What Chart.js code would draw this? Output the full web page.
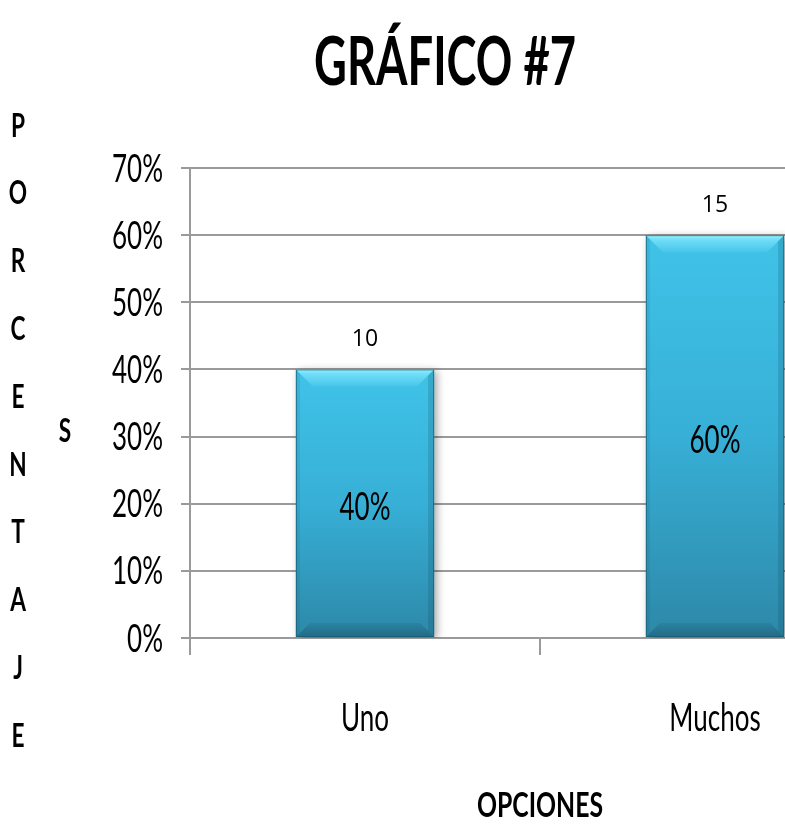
<!DOCTYPE html>
<html>
<head>
<meta charset="utf-8">
<title>GRÁFICO #7</title>
<script src="https://cdn.jsdelivr.net/npm/chart.js@4/dist/chart.umd.min.js"></script>
<style>
  html, body { margin: 0; padding: 0; background: #fff; overflow: hidden; width: 785px; height: 826px; }
  #wrap { position: relative; width: 890px; height: 826px; }
</style>
</head>
<body>
<div id="wrap"><canvas id="chart" width="890" height="826"></canvas></div>
<script>
// ---- data ----
const categories = ['Uno', 'Muchos'];
const percentages = [40, 60];
const counts = [10, 15];
const yTickValues = [0, 10, 20, 30, 40, 50, 60, 70];
const chartTitle = 'GRÁFICO #7';
const yTitle = 'PORCENTAJES';
const xTitle = 'OPCIONES';

// ---- styling ----
const GRID = '#9a9a9a';
const FONT = 'Lato, "Open Sans", "Liberation Sans", sans-serif';

function fontSpec(px, weight) { return `${weight} ${px}px ${FONT}`; }

// Horizontal squeeze that makes `sample` exactly `width` pixels wide.
function squeezeFor(ctx, sample, px, weight, width) {
  ctx.save();
  ctx.font = fontSpec(px, weight);
  const w = ctx.measureText(sample).width;
  ctx.restore();
  return width / w;
}

// Draws text horizontally compressed (tall, narrow lettering).
function squeezed(ctx, text, x, y, px, weight, sx, align) {
  ctx.save();
  ctx.font = fontSpec(px, weight);
  ctx.textAlign = align || 'center';
  ctx.textBaseline = 'alphabetic';
  ctx.fillStyle = '#000';
  ctx.translate(x, y);
  ctx.scale(sx, 1);
  ctx.fillText(text, 0, 0);
  ctx.restore();
}

// Vertical gradient running along each bar.
function barFill(context) {
  const chart = context.chart;
  if (!chart.chartArea) return '#37b0d6';
  const ys = chart.scales.y;
  const top = ys.getPixelForValue(context.raw);
  const base = ys.getPixelForValue(0);
  const g = chart.ctx.createLinearGradient(0, top, 0, base);
  g.addColorStop(0, '#40c3e8');
  g.addColorStop(0.5, '#37afd6');
  g.addColorStop(1, '#2d88a8');
  return g;
}

// Soft drop shadow under the bars plus a bevelled edge on top of them.
const bevelPlugin = {
  id: 'bevel',
  beforeDatasetDraw(chart) {
    const ctx = chart.ctx;
    ctx.save();
    ctx.shadowColor = 'rgba(0,0,0,0.35)';
    ctx.shadowBlur = 8;
    ctx.shadowOffsetX = 3;
    ctx.shadowOffsetY = 2;
  },
  afterDatasetDraw(chart, args) {
    const ctx = chart.ctx;
    ctx.restore();
    args.meta.data.forEach(el => {
      const l = el.x - el.width / 2, r = el.x + el.width / 2;
      const t = el.y, b = el.base;
      const dt = 17, db = 14;
      ctx.save();
      // top bevel
      let g = ctx.createLinearGradient(0, t, 0, t + dt);
      g.addColorStop(0, '#95f2ff');
      g.addColorStop(0.25, '#72def8');
      g.addColorStop(1, '#46c6ea');
      ctx.fillStyle = g;
      ctx.beginPath();
      ctx.moveTo(l, t); ctx.lineTo(r, t); ctx.lineTo(r - dt, t + dt); ctx.lineTo(l + dt, t + dt);
      ctx.closePath(); ctx.fill();
      // bottom bevel
      g = ctx.createLinearGradient(0, b - db, 0, b);
      g.addColorStop(0, 'rgba(20,80,100,0.15)');
      g.addColorStop(1, 'rgba(20,70,90,0.45)');
      ctx.fillStyle = g;
      ctx.beginPath();
      ctx.moveTo(l, b); ctx.lineTo(r, b); ctx.lineTo(r - db, b - db); ctx.lineTo(l + db, b - db);
      ctx.closePath(); ctx.fill();
      // right side, slightly darker
      ctx.fillStyle = 'rgba(10,60,80,0.18)';
      ctx.beginPath();
      ctx.moveTo(r, t); ctx.lineTo(r, b); ctx.lineTo(r - 6, b - 6); ctx.lineTo(r - 6, t + 6);
      ctx.closePath(); ctx.fill();
      // left side
      ctx.fillStyle = 'rgba(10,60,80,0.10)';
      ctx.beginPath();
      ctx.moveTo(l, t); ctx.lineTo(l, b); ctx.lineTo(l + 4, b - 4); ctx.lineTo(l + 4, t + 4);
      ctx.closePath(); ctx.fill();
      // thin outline
      ctx.strokeStyle = 'rgba(20,90,115,0.7)';
      ctx.lineWidth = 1;
      ctx.strokeRect(l + 0.5, t + 0.5, el.width - 1, b - t - 1);
      ctx.restore();
    });
  }
};

// Titles, tick labels and value labels.
const textPlugin = {
  id: 'texts',
  afterDraw(chart) {
    const ctx = chart.ctx;
    const xs = chart.scales.x, ys = chart.scales.y;
    const area = chart.chartArea;

    const sxNormal = squeezeFor(ctx, '70%', 38, 'normal', 51);
    const sxTitle = squeezeFor(ctx, chartTitle, 67, 'bold', 262);
    const sxAxis = squeezeFor(ctx, xTitle, 35, 'bold', 126);

    // chart title
    squeezed(ctx, chartTitle, chart.width / 2, 85, 67, 'bold', sxTitle, 'center');

    // y tick labels
    ys.ticks.forEach((tk, i) => {
      const y = ys.getPixelForTick(i);
      squeezed(ctx, tk.value + '%', area.left - 27, y + 13.5, 38, 'normal', sxNormal, 'right');
    });

    // x tick labels
    categories.forEach((c, i) => {
      squeezed(ctx, c, xs.getPixelForValue(i), 731, 38, 'normal', sxNormal, 'center');
    });

    // y axis title: letters stacked vertically, last one wrapped to a second column
    const letters = yTitle.split('');
    letters.slice(0, -1).forEach((ch, i) => {
      squeezed(ctx, ch, 18, 136.5 + i * 67.8, 32, 'bold', sxAxis, 'center');
    });
    squeezed(ctx, letters[letters.length - 1], 65, 441.5, 32, 'bold', sxAxis, 'center');

    // x axis title
    squeezed(ctx, xTitle, (area.left + area.right) / 2, 817, 35, 'bold', sxAxis, 'center');

    // value labels
    chart.getDatasetMeta(0).data.forEach((el, i) => {
      const mid = (el.y + el.base) / 2;
      squeezed(ctx, percentages[i] + '%', el.x, mid + 16.5, 38, 'normal', sxNormal, 'center');
      ctx.save();
      ctx.font = '23px "Open Sans", Lato, sans-serif';
      ctx.textAlign = 'center';
      ctx.textBaseline = 'alphabetic';
      ctx.fillStyle = '#000';
      ctx.fillText(String(counts[i]), el.x, el.y - 23);
      ctx.restore();
    });
  }
};

new Chart(document.getElementById('chart'), {
  type: 'bar',
  data: {
    labels: categories,
    datasets: [{
      data: percentages,
      backgroundColor: barFill,
      borderWidth: 0,
      categoryPercentage: 0.5,
      barPercentage: 0.79
    }]
  },
  options: {
    responsive: false,
    animation: false,
    devicePixelRatio: 1,
    layout: { padding: { top: 168, right: 0, bottom: 0, left: 0 } },
    plugins: {
      legend: { display: false },
      tooltip: { enabled: false },
      title: { display: false }
    },
    scales: {
      x: {
        offset: true,
        grid: { display: true, offset: true, drawOnChartArea: false, drawTicks: true, tickLength: 17, color: GRID, lineWidth: 2 },
        border: { display: true, color: GRID, width: 2 },
        ticks: { display: false },
        afterFit(scale) { scale.height = 188; }
      },
      y: {
        min: 0,
        max: 70,
        afterBuildTicks(scale) { scale.ticks = yTickValues.map(v => ({ value: v })); },
        grid: { color: GRID, lineWidth: 2, tickLength: 9, drawTicks: true },
        border: { display: true, color: GRID, width: 2 },
        ticks: { display: false },
        afterFit(scale) { scale.width = 190; }
      }
    }
  },
  plugins: [bevelPlugin, textPlugin]
});
</script>
</body>
</html>
